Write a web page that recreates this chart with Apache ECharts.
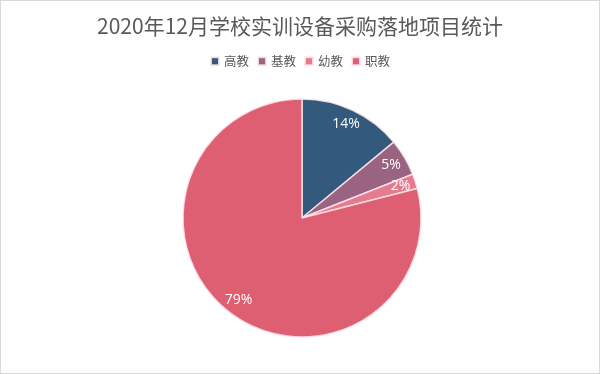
<!DOCTYPE html>
<html><head><meta charset="utf-8">
<script src="https://cdn.jsdelivr.net/npm/echarts@6/dist/echarts.min.js"></script>
<style>html,body{margin:0;padding:0;background:#fff}#c{width:598px;height:372px;border:1px solid #d9d9d9}</style>
</head><body><div id="c"></div>
<script>
const categories = ['高教', '基教', '幼教', '职教'];
const values = [14, 5, 2, 79];
const colors = ['#335a7c', '#9a6382', '#e47b8e', '#de5f71'];
const titleText = '2020年12月学校实训设备采购落地项目统计';

const data = categories.map((n, i) => ({ name: n, value: values[i] }));
const chart = echarts.init(document.getElementById('c'));
chart.setOption({
  animation: false,
  color: colors,
  title: { text: titleText, left: 'center', top: 10,
    textStyle: { fontFamily: 'Noto Sans CJK SC', fontSize: 21, fontWeight: 'normal', color: '#595959' } },
  legend: { top: 49, left: 'center', icon: 'rect', itemWidth: 8, itemHeight: 8, itemGap: 8,
    textStyle: { fontFamily: 'Noto Sans CJK SC', fontSize: 12.5, color: '#595959' }, data: categories },
  series: [
    { type: 'pie', center: [301, 217], radius: [0, 119], startAngle: 90, clockwise: true,
      data: data, label: { show: false }, labelLine: { show: false },
      itemStyle: { borderColor: 'rgba(255,230,235,0.85)', borderWidth: 1.5 } },
    { type: 'pie', center: [301, 217], radius: [82, 119], startAngle: 90, clockwise: true, silent: true,
      data: data, itemStyle: { color: 'rgba(0,0,0,0)' }, labelLine: { show: false },
      label: { show: true, position: 'inside', formatter: '{c}%', color: '#fff',
        fontFamily: 'Open Sans', fontSize: 14 } }
  ]
});
</script></body></html>
